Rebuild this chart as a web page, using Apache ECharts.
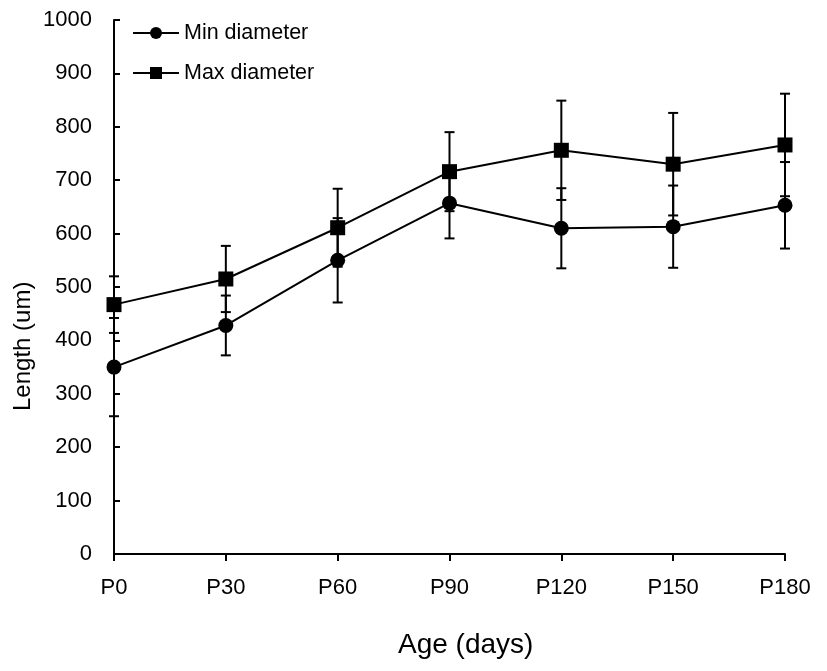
<!DOCTYPE html>
<html>
<head>
<meta charset="utf-8">
<script src="https://cdn.jsdelivr.net/npm/echarts@6/dist/echarts.min.js"></script>
<style>
html,body{margin:0;padding:0;background:#fff;}
#chart{width:827px;height:671px;}
</style>
</head>
<body>
<div id="chart"></div>
<script>
var categories = ['P0', 'P30', 'P60', 'P90', 'P120', 'P150', 'P180'];
var minMean = [350, 428, 550, 657, 610, 613, 653];
var minErr = [92, 56, 79, 66, 75, 77, 81];
var maxMean = [467, 515, 611, 716, 756, 730, 766];
var maxErr = [53, 62, 73, 74, 93, 96, 96];
var yTicks = [0, 100, 200, 300, 400, 500, 600, 700, 800, 900, 1000];

var FONT = "'Liberation Sans', Arial, sans-serif";
var INK = '#000';

function errData(mean, err) {
  return mean.map(function (m, i) { return [i, m - err[i], m + err[i]]; });
}

function renderErr(params, api) {
  var x = api.value(0);
  var lo = api.coord([x, api.value(1)]);
  var hi = api.coord([x, api.value(2)]);
  var cw = 5;
  var st = { stroke: INK, lineWidth: 2 };
  return {
    type: 'group',
    children: [
      { type: 'line', shape: { x1: lo[0], y1: lo[1], x2: hi[0], y2: hi[1] }, style: st },
      { type: 'line', shape: { x1: lo[0] - cw, y1: lo[1], x2: lo[0] + cw, y2: lo[1] }, style: st },
      { type: 'line', shape: { x1: hi[0] - cw, y1: hi[1], x2: hi[0] + cw, y2: hi[1] }, style: st }
    ]
  };
}

var chart = echarts.init(document.getElementById('chart'), null, { renderer: 'canvas' });
chart.setOption({
  backgroundColor: '#fff',
  animation: false,
  textStyle: { fontFamily: FONT, color: INK },
  grid: { left: 114, right: 42, top: 20, bottom: 117, containLabel: false },
  legend: {
    orient: 'vertical',
    left: 127,
    top: 17,
    itemWidth: 46,
    itemHeight: 15,
    itemGap: 18,
    textStyle: { fontFamily: FONT, fontSize: 21.5, color: INK },
    data: ['Min diameter', 'Max diameter']
  },
  xAxis: {
    type: 'category',
    data: categories,
    boundaryGap: false,
    axisLine: { lineStyle: { color: INK, width: 2 } },
    axisTick: { show: true, length: 7, inside: false, lineStyle: { color: INK, width: 2 } },
    axisLabel: { fontFamily: FONT, fontSize: 22, color: INK, margin: 23 },
    splitLine: { show: false }
  },
  yAxis: {
    type: 'value',
    min: yTicks[0],
    max: yTicks[yTicks.length - 1],
    interval: 100,
    axisLine: { show: true, lineStyle: { color: INK, width: 2 } },
    axisTick: { show: true, length: 6, inside: true, lineStyle: { color: INK, width: 2 } },
    axisLabel: { fontFamily: FONT, fontSize: 22, color: INK, margin: 22, formatter: function (v) { return String(v); } },
    splitLine: { show: false }
  },
  graphic: [
    {
      type: 'text', left: 398, top: 631,
      style: { text: 'Age (days)', fontFamily: FONT, fontSize: 28, fill: INK }
    },
    {
      type: 'text', x: 11, y: 411, rotation: Math.PI / 2,
      style: { text: 'Length (um)', fontFamily: FONT, fontSize: 24, fill: INK, textVerticalAlign: 'top' }
    }
  ],
  series: [
    {
      name: 'Min diameter err', type: 'custom', renderItem: renderErr,
      data: errData(minMean, minErr), z: 1, silent: true
    },
    {
      name: 'Max diameter err', type: 'custom', renderItem: renderErr,
      data: errData(maxMean, maxErr), z: 1, silent: true
    },
    {
      name: 'Min diameter', type: 'line', data: minMean,
      symbol: 'circle', symbolSize: 15, showAllSymbol: true,
      lineStyle: { color: INK, width: 2 },
      itemStyle: { color: INK },
      z: 3
    },
    {
      name: 'Max diameter', type: 'line', data: maxMean,
      symbol: 'rect', symbolSize: 15, showAllSymbol: true,
      lineStyle: { color: INK, width: 2 },
      itemStyle: { color: INK },
      z: 3
    }
  ]
});
</script>
</body>
</html>
